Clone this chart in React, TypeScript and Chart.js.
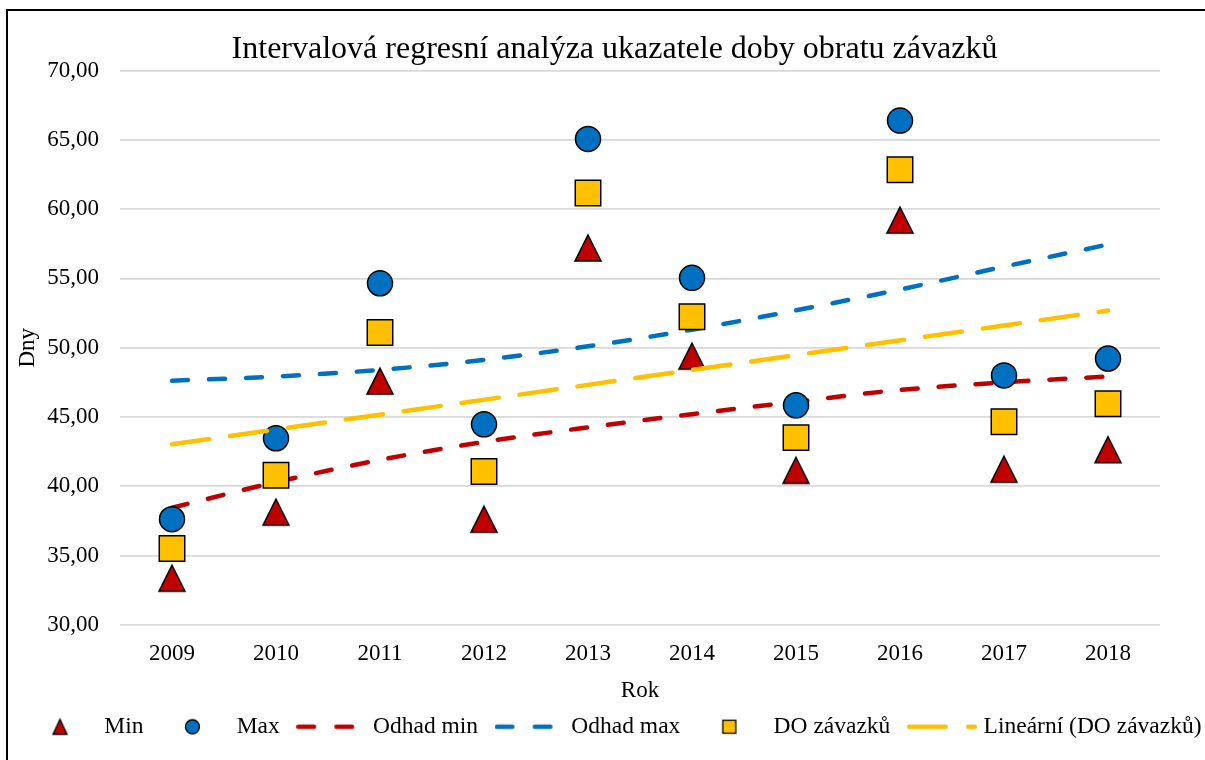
import React, { useEffect, useRef } from 'react';
import { Chart, registerables } from 'chart.js';

Chart.register(...registerables);

// ---- data ----
const years = ['2009', '2010', '2011', '2012', '2013', '2014', '2015', '2016', '2017', '2018'];
const minValues = [33.36, 38.13, 47.59, 37.62, 57.2, 49.39, 41.15, 59.21, 41.23, 42.64];
const maxValues = [37.62, 43.46, 54.65, 44.47, 65.07, 55.04, 45.84, 66.39, 48.0, 49.22];
const doValues = [35.51, 40.79, 51.1, 41.06, 61.16, 52.23, 43.51, 62.84, 44.66, 45.96];
const odhadMin = [38.45, 40.3, 41.9, 43.2, 44.25, 45.2, 46.1, 46.95, 47.5, 47.92];
const odhadMax = [47.62, 47.92, 48.4, 49.12, 50.1, 51.3, 52.7, 54.2, 55.85, 57.45];
const linearDO = [43.03, null, null, null, null, null, null, null, null, 52.68];
const seriesLabels = ['Min', 'Max', 'Odhad min', 'Odhad max', 'DO závazků', 'Lineární (DO závazků)'];
const yMin = 30;
const yMax = 70;
const yStep = 5;

const RED = '#C00000';
const BLUE = '#0070C0';
const YELLOW = '#FFC000';
const FONT = "'Liberation Serif', 'Times New Roman', serif";
const BOX_W = 65;

function makeTriangle(w: number, h: number, cw: number, ch: number, lw: number) {
  const c = document.createElement('canvas');
  c.width = cw;
  c.height = ch;
  const ctx = c.getContext('2d')!;
  const x0 = (cw - w) / 2;
  const y0 = (ch - h) / 2;
  ctx.beginPath();
  ctx.moveTo(cw / 2, y0);
  ctx.lineTo(x0 + w, y0 + h);
  ctx.lineTo(x0, y0 + h);
  ctx.closePath();
  ctx.fillStyle = RED;
  ctx.fill();
  ctx.lineWidth = lw;
  ctx.lineJoin = 'miter';
  ctx.strokeStyle = '#000';
  ctx.stroke();
  return c;
}

function makeLegendMarker(kind: string) {
  const c = document.createElement('canvas');
  c.width = BOX_W;
  c.height = 24;
  const cx = BOX_W / 2;
  const ctx = c.getContext('2d')!;
  ctx.lineWidth = 1.3;
  ctx.strokeStyle = '#000';
  if (kind === 'tri') {
    ctx.beginPath();
    ctx.moveTo(cx, 4.5);
    ctx.lineTo(cx + 7, 19.5);
    ctx.lineTo(cx - 7, 19.5);
    ctx.closePath();
    ctx.fillStyle = RED;
    ctx.fill();
    ctx.stroke();
  } else if (kind === 'circ') {
    ctx.beginPath();
    ctx.arc(cx, 12, 7, 0, Math.PI * 2);
    ctx.fillStyle = BLUE;
    ctx.fill();
    ctx.stroke();
  } else if (kind === 'sq') {
    ctx.fillStyle = YELLOW;
    ctx.fillRect(cx - 6.5, 5.5, 13, 13);
    ctx.strokeRect(cx - 6.5, 5.5, 13, 13);
  }
  return c;
}

// line symbol: visible from box start to box start + visLen
function makeLegendLine(color: string, dash: number[], visLen: number) {
  const half = Math.max(BOX_W / 2, visLen - BOX_W / 2);
  const w = Math.ceil(half * 2);
  const off = w / 2 - BOX_W / 2;
  const c = document.createElement('canvas');
  c.width = w;
  c.height = 24;
  const ctx = c.getContext('2d')!;
  ctx.strokeStyle = color;
  ctx.lineWidth = 4.5;
  ctx.lineCap = 'round';
  ctx.setLineDash(dash);
  ctx.beginPath();
  ctx.moveTo(off + 2.25, 12);
  ctx.lineTo(off + visLen - 2.25, 12);
  ctx.stroke();
  return c;
}

export default function App() {
  const canvasRef = useRef<HTMLCanvasElement | null>(null);

  useEffect(() => {
    const canvas = canvasRef.current;
    if (!canvas) return;

    const triPoint = makeTriangle(26, 26, 32, 32, 1.5);
    const legendImgs = [
      makeLegendMarker('tri'),
      makeLegendMarker('circ'),
      makeLegendLine(RED, [15.5, 22.5], 59),
      makeLegendLine(BLUE, [15.5, 22.5], 59),
      makeLegendMarker('sq'),
      makeLegendLine(YELLOW, [36.5, 22.5], 70),
    ];

    const tickFont = { family: FONT, size: 23 };

    const chart = new Chart(canvas, {
      type: 'line',
      data: {
        labels: years,
        datasets: [
          {
            label: seriesLabels[0],
            data: minValues,
            showLine: false,
            pointStyle: triPoint as any,
            pointRadius: 13,
            pointHoverRadius: 13,
            backgroundColor: RED,
            borderColor: '#000',
            order: 4,
          },
          {
            label: seriesLabels[1],
            data: maxValues,
            showLine: false,
            pointStyle: 'circle',
            pointRadius: 12.5,
            pointHoverRadius: 12.5,
            pointBackgroundColor: BLUE,
            pointBorderColor: '#000',
            pointBorderWidth: 1.5,
            backgroundColor: BLUE,
            borderColor: '#000',
            order: 3,
          },
          {
            label: seriesLabels[2],
            data: odhadMin,
            borderColor: RED,
            borderWidth: 4.5,
            borderDash: [16, 21],
            borderCapStyle: 'round',
            cubicInterpolationMode: 'monotone',
            pointRadius: 0,
            pointHoverRadius: 0,
            fill: false,
            order: 6,
          },
          {
            label: seriesLabels[3],
            data: odhadMax,
            borderColor: BLUE,
            borderWidth: 4.5,
            borderDash: [16, 21],
            borderCapStyle: 'round',
            cubicInterpolationMode: 'monotone',
            pointRadius: 0,
            pointHoverRadius: 0,
            fill: false,
            order: 5,
          },
          {
            label: seriesLabels[4],
            data: doValues,
            showLine: false,
            pointStyle: 'rect',
            pointRadius: 18,
            pointHoverRadius: 18,
            pointBackgroundColor: YELLOW,
            pointBorderColor: '#000',
            pointBorderWidth: 1.5,
            backgroundColor: YELLOW,
            borderColor: '#000',
            order: 2,
          },
          {
            label: seriesLabels[5],
            data: linearDO,
            spanGaps: true,
            borderColor: YELLOW,
            borderWidth: 4.5,
            borderDash: [37.5, 21],
            borderCapStyle: 'round',
            pointRadius: 0,
            pointHoverRadius: 0,
            fill: false,
            order: 1,
          },
        ],
      },
      options: {
        responsive: false,
        animation: false,
        events: [],
        layout: { padding: { left: 0, right: 0, top: 0, bottom: 11.5 } },
        plugins: {
          tooltip: { enabled: false },
          title: {
            display: true,
            text: 'Intervalová regresní analýza ukazatele doby obratu závazků',
            color: '#000',
            font: { family: FONT, size: 32, weight: 'normal' },
            padding: { top: 19.8, bottom: 1.4 },
          },
          legend: {
            display: true,
            position: 'bottom',
            labels: {
              usePointStyle: true,
              pointStyleWidth: BOX_W,
              padding: 16.5,
              color: '#000',
              font: { family: FONT, size: 23.5 },
              generateLabels: () =>
                seriesLabels.map((t, i) => ({
                  text: t,
                  pointStyle: legendImgs[i] as any,
                  fillStyle: 'transparent',
                  strokeStyle: 'transparent',
                  lineWidth: 0,
                  hidden: false,
                  datasetIndex: i,
                  fontColor: '#000',
                })),
            },
          },
        },
        scales: {
          x: {
            type: 'category',
            offset: true,
            grid: { display: false, drawTicks: false },
            border: { display: false },
            ticks: { color: '#000', font: tickFont, padding: 15.4, maxRotation: 0 },
            title: {
              display: true,
              text: 'Rok',
              color: '#000',
              font: { family: FONT, size: 23, lineHeight: 0.67 },
              padding: { top: 4, bottom: 0 },
            },
            afterFit: (s: any) => {
              s.height = 73.7;
            },
          },
          y: {
            type: 'linear',
            position: 'left',
            min: yMin,
            max: yMax,
            grid: { color: '#d9d9d9', lineWidth: 1.8, drawTicks: false },
            border: { display: false },
            ticks: {
              stepSize: yStep,
              color: '#000',
              font: tickFont,
              padding: 21,
              callback: (v: any) => Number(v).toFixed(2).replace('.', ','),
            },
            title: {
              display: true,
              text: 'Dny',
              color: '#000',
              font: { family: FONT, size: 23 },
              padding: { top: 5.8, bottom: 0 },
            },
            afterFit: (s: any) => {
              s.width = 112;
            },
          },
          yRight: {
            type: 'linear',
            position: 'right',
            display: true,
            grid: { display: false, drawTicks: false },
            border: { display: false },
            ticks: { display: false },
            afterFit: (s: any) => {
              s.width = 61;
            },
          },
        },
      },
    } as any);

    return () => {
      chart.destroy();
    };
  }, []);

  return (
    <div
      style={{
        position: 'fixed',
        left: 6,
        top: 9,
        width: 1240,
        height: 800,
        border: '2px solid #000',
        boxSizing: 'border-box',
        background: '#fff',
      }}
    >
      <canvas ref={canvasRef} width={1213} height={749} style={{ display: 'block' }} />
    </div>
  );
}
